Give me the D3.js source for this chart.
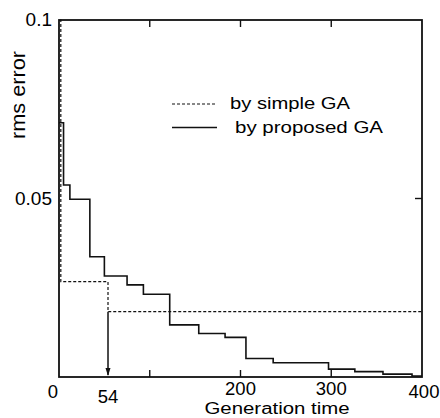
<!DOCTYPE html>
<html>
<head>
<meta charset="utf-8">
<script src="https://cdn.jsdelivr.net/npm/d3@7"></script>
<style>
  body { margin: 0; background: #fff; }
  text { font-family: "Liberation Sans", Arial, sans-serif; fill: #000; }
</style>
</head>
<body>
<div id="chart"></div>
<script>
// step data
const proposedGen = [0, 5, 12, 34, 50, 75, 93, 122, 154, 183, 206, 236, 297, 326, 357, 389, 400];
const proposedErr = [0.0712, 0.0538, 0.0498, 0.0337, 0.0283, 0.0258, 0.0232, 0.0146, 0.0122, 0.0111, 0.0052, 0.0040, 0.0022, 0.0015, 0.0008, 0.0003, 0.0003];
const simpleGen = [1, 2, 54, 400];
const simpleErr = [0.1, 0.0267, 0.0183, 0.0183];
const markGen = 54;
const xLabels = [0, 54, 200, 300, 400];
const yLabels = [0.1, 0.05];
const legendNames = ["by simple GA", "by proposed GA"];

const width = 440, height = 418;
const svg = d3.select("#chart").append("svg")
    .attr("width", width)
    .attr("height", height);

const x = d3.scaleLinear().domain([0, 400]).range([59, 422]);
const y = d3.scaleLinear().domain([0, 0.1]).range([377, 20]);

// frame
svg.append("rect")
    .attr("x", x(0)).attr("y", y(0.1))
    .attr("width", x(400) - x(0)).attr("height", y(0) - y(0.1))
    .attr("fill", "none").attr("stroke", "#111").attr("stroke-width", 1.8);

// inner ticks on top / bottom / right
const tickLen = 7;
[100, 200, 300].forEach(t => {
    svg.append("line").attr("x1", x(t)).attr("x2", x(t))
        .attr("y1", y(0)).attr("y2", y(0) - tickLen)
        .attr("stroke", "#111").attr("stroke-width", 1.4);
    svg.append("line").attr("x1", x(t)).attr("x2", x(t))
        .attr("y1", y(0.1)).attr("y2", y(0.1) + tickLen)
        .attr("stroke", "#111").attr("stroke-width", 1.4);
});
svg.append("line").attr("x1", x(400)).attr("x2", x(400) - tickLen)
    .attr("y1", y(0.05)).attr("y2", y(0.05))
    .attr("stroke", "#111").attr("stroke-width", 1.4);

// tick labels
svg.selectAll(".xl").data(xLabels).enter().append("text")
    .attr("class", "xl")
    .attr("x", d => x(d) + (d === 0 ? -6 : d === 400 ? 2 : 0))
    .attr("y", d => d === 54 ? 403 : (d === 200 || d === 300) ? 395 : 398)
    .attr("text-anchor", "middle")
    .attr("font-size", 18.5)
    .text(d => d);

svg.selectAll(".yl").data(yLabels).enter().append("text")
    .attr("class", "yl")
    .attr("x", 52)
    .attr("y", d => y(d) + 6)
    .attr("text-anchor", "end")
    .attr("font-size", 19)
    .text(d => d);

svg.append("text")
    .attr("x", 277).attr("y", 414)
    .attr("text-anchor", "middle")
    .attr("font-size", 16)
    .attr("textLength", 145).attr("lengthAdjust", "spacingAndGlyphs")
    .text("Generation time");

svg.append("text")
    .attr("transform", "translate(25,95) rotate(-90)")
    .attr("text-anchor", "middle")
    .attr("font-size", 21)
    .attr("textLength", 88).attr("lengthAdjust", "spacingAndGlyphs")
    .text("rms error");

// series
const line = d3.line()
    .x(d => x(d[0]))
    .y(d => y(d[1]))
    .curve(d3.curveStepAfter);

svg.append("path")
    .datum(simpleGen.map((g, i) => [g, simpleErr[i]]))
    .attr("d", line)
    .attr("fill", "none").attr("stroke", "#111")
    .attr("stroke-width", 1.2).attr("stroke-dasharray", "3,2");

svg.append("path")
    .datum(proposedGen.map((g, i) => [g, proposedErr[i]]))
    .attr("d", line)
    .attr("fill", "none").attr("stroke", "#111")
    .attr("stroke-width", 1.6);

// arrow down to generation 54
const ax = x(markGen);
svg.append("line")
    .attr("x1", ax).attr("x2", ax)
    .attr("y1", y(simpleErr[2])).attr("y2", y(0) - 2)
    .attr("stroke", "#111").attr("stroke-width", 1.5);
svg.append("path")
    .attr("d", `M${ax - 2.5},${y(0) - 9}L${ax + 2.5},${y(0) - 9}L${ax},${y(0) - 1}Z`)
    .attr("fill", "#111");

// legend
const legY = [104, 127.5];
legendNames.forEach((name, i) => {
    svg.append("line")
        .attr("x1", 172).attr("x2", 217)
        .attr("y1", legY[i]).attr("y2", legY[i])
        .attr("stroke", "#111")
        .attr("stroke-width", i === 0 ? 1.2 : 1.5)
        .attr("stroke-dasharray", i === 0 ? "3,2" : null);
    svg.append("text")
        .attr("x", i === 0 ? 230 : 235)
        .attr("y", legY[i] + 5)
        .attr("font-size", 17)
        .attr("textLength", i === 0 ? 120 : 148)
        .attr("lengthAdjust", "spacingAndGlyphs")
        .text(name);
});
</script>
</body>
</html>
